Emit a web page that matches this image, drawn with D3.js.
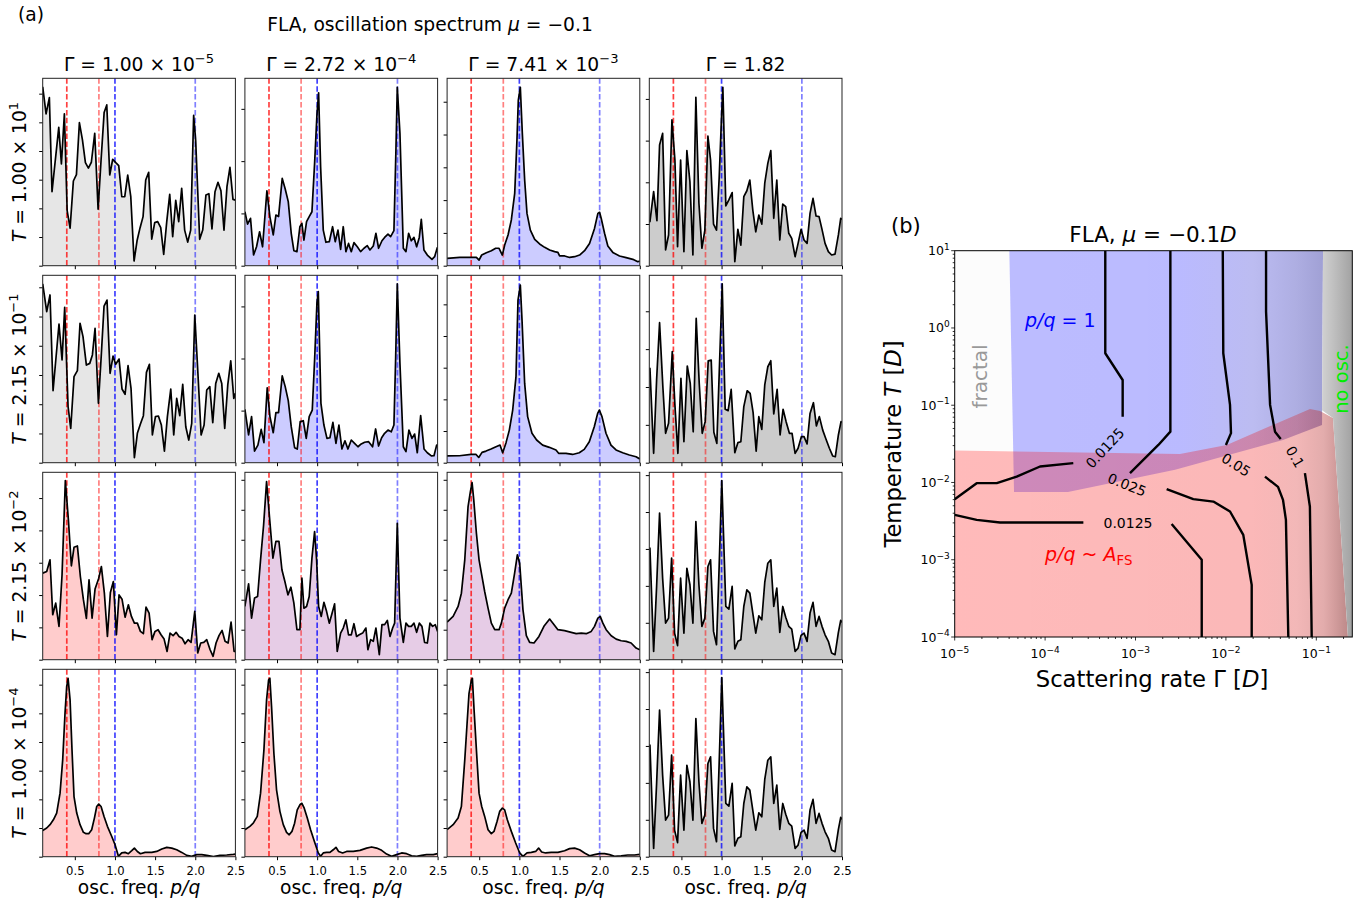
<!DOCTYPE html>
<html><head><meta charset="utf-8">
<script src="https://cdn.jsdelivr.net/npm/d3@7"></script>
<style>
body{margin:0;background:#fff;}
svg text{font-family:"DejaVu Sans",sans-serif;fill:#000;}
</style></head><body>
<svg id="fig" width="1370" height="904"></svg>
<script>
// ---------- panel (a): oscillation spectra ----------
const freqDomain = [0.1, 2.5];
const freqTicks = [0.5, 1.0, 1.5, 2.0, 2.5];
const markerFreqs = [0.4, 0.8, 1.0, 2.0];
const gammaTitles = [["1.00", "−5"], ["2.72", "−4"], ["7.41", "−3"], ["1.82", null]];
const tempTitles = [["1.00", "1"], ["2.15", "−1"], ["2.15", "−2"], ["1.00", "−4"]];
const regimes = [
  ["fractal", "pq1", "pq1", "noosc"],
  ["fractal", "pq1", "pq1", "noosc"],
  ["afs", "mixed", "mixed", "noosc"],
  ["afs", "afs", "afs", "noosc"]
];
const yTickSteps = [
  [0.153, 0.279, 0.175, 0.2225],
  [0.156, 0.278, 0.169, 0.202],
  [0.1725, 0.16, 0.16, 0.197],
  [0.153, 0.153, 0.153, 0.197]
];

// relative spectral weight (1 = top of each panel)
const specT1G1 = [[0.1,0.955],[0.142,0.81],[0.183,0.897],[0.216,0.395],[0.30,0.738],[0.333,0.543],[0.37,0.81],[0.405,0.292],[0.441,0.2],[0.482,0.452],[0.52,0.486],[0.557,0.763],[0.595,0.671],[0.632,0.55],[0.669,0.521],[0.706,0.552],[0.748,0.706],[0.79,0.302],[0.827,0.564],[0.865,0.817],[0.898,0.858],[0.935,0.484],[0.972,0.568],[1.01,0.55],[1.047,0.534],[1.085,0.368],[1.122,0.368],[1.159,0.484],[1.197,0.368],[1.238,0.025],[1.275,0.133],[1.313,0.203],[1.35,0.262],[1.383,0.457],[1.42,0.498],[1.458,0.142],[1.495,0.23],[1.532,0.235],[1.57,0.203],[1.607,0.06],[1.645,0.235],[1.682,0.381],[1.719,0.155],[1.757,0.349],[1.794,0.235],[1.831,0.413],[1.868,0.19],[1.906,0.126],[1.943,0.19],[1.98,0.802],[2.005,0.671],[2.055,0.141],[2.093,0.19],[2.133,0.377],[2.17,0.384],[2.208,0.196],[2.246,0.395],[2.283,0.445],[2.32,0.4],[2.358,0.19],[2.395,0.422],[2.432,0.525],[2.47,0.354],[2.5,0.35]];
const specT2G1 = [[0.1,0.954],[0.15,0.806],[0.191,0.895],[0.229,0.384],[0.303,0.74],[0.341,0.548],[0.374,0.829],[0.416,0.3],[0.449,0.183],[0.49,0.459],[0.532,0.491],[0.565,0.744],[0.602,0.673],[0.644,0.521],[0.686,0.53],[0.719,0.575],[0.752,0.717],[0.794,0.317],[0.829,0.57],[0.864,0.836],[0.901,0.868],[0.939,0.477],[0.976,0.569],[1.009,0.525],[1.051,0.553],[1.088,0.393],[1.126,0.365],[1.163,0.518],[1.2,0.397],[1.242,0.027],[1.279,0.157],[1.317,0.206],[1.354,0.251],[1.392,0.482],[1.429,0.525],[1.466,0.148],[1.504,0.246],[1.541,0.249],[1.578,0.201],[1.616,0.062],[1.653,0.246],[1.695,0.393],[1.732,0.148],[1.769,0.343],[1.807,0.251],[1.844,0.418],[1.882,0.192],[1.919,0.121],[1.956,0.21],[1.994,0.788],[2.031,0.495],[2.073,0.148],[2.11,0.201],[2.143,0.388],[2.181,0.406],[2.218,0.214],[2.255,0.423],[2.293,0.477],[2.33,0.423],[2.367,0.183],[2.405,0.415],[2.442,0.543],[2.48,0.343],[2.5,0.37]];
const specT1G2 = [[0.1,0.288],[0.133,0.222],[0.17,0.253],[0.208,0.057],[0.245,0.101],[0.283,0.181],[0.32,0.101],[0.374,0.4],[0.411,0.262],[0.453,0.164],[0.486,0.27],[0.519,0.262],[0.565,0.466],[0.602,0.409],[0.64,0.342],[0.677,0.173],[0.71,0.08],[0.748,0.075],[0.785,0.208],[0.81,0.226],[0.835,0.137],[0.868,0.235],[0.901,0.262],[0.935,0.288],[0.968,0.546],[0.997,0.804],[1.018,0.923],[1.043,0.528],[1.076,0.19],[1.109,0.125],[1.151,0.128],[1.192,0.208],[1.225,0.128],[1.259,0.19],[1.292,0.087],[1.325,0.208],[1.358,0.075],[1.391,0.119],[1.425,0.075],[1.458,0.123],[1.5,0.101],[1.541,0.075],[1.583,0.093],[1.624,0.107],[1.657,0.084],[1.699,0.105],[1.732,0.173],[1.765,0.093],[1.807,0.133],[1.84,0.151],[1.882,0.169],[1.915,0.155],[1.956,0.187],[1.981,0.617],[1.998,0.952],[2.031,0.706],[2.073,0.093],[2.106,0.075],[2.139,0.173],[2.172,0.133],[2.206,0.151],[2.239,0.101],[2.272,0.151],[2.297,0.247],[2.33,0.084],[2.372,0.057],[2.43,0.034],[2.463,0.048],[2.496,0.096],[2.5,0.096]];
const specT2G2 = [[0.1,0.285],[0.146,0.148],[0.183,0.246],[0.22,0.062],[0.262,0.094],[0.303,0.178],[0.337,0.107],[0.378,0.4],[0.412,0.246],[0.453,0.16],[0.486,0.267],[0.519,0.267],[0.565,0.463],[0.602,0.406],[0.64,0.331],[0.677,0.192],[0.719,0.08],[0.752,0.073],[0.789,0.219],[0.827,0.224],[0.864,0.13],[0.901,0.246],[0.939,0.281],[0.968,0.548],[0.997,0.851],[1.014,0.913],[1.047,0.317],[1.084,0.201],[1.122,0.13],[1.159,0.133],[1.196,0.215],[1.234,0.103],[1.271,0.201],[1.308,0.073],[1.346,0.117],[1.383,0.073],[1.425,0.121],[1.466,0.103],[1.508,0.085],[1.549,0.1],[1.591,0.109],[1.641,0.112],[1.69,0.085],[1.728,0.18],[1.765,0.089],[1.803,0.133],[1.84,0.157],[1.882,0.174],[1.923,0.165],[1.956,0.201],[1.977,0.548],[1.998,0.954],[2.031,0.53],[2.073,0.085],[2.106,0.059],[2.143,0.174],[2.181,0.13],[2.214,0.153],[2.247,0.053],[2.289,0.251],[2.331,0.073],[2.372,0.053],[2.422,0.036],[2.455,0.037],[2.488,0.094],[2.5,0.094]];
const specT1G3 = [[0.1,0.039],[0.258,0.044],[0.403,0.044],[0.465,0.044],[0.498,0.03],[0.531,0.057],[0.589,0.069],[0.651,0.08],[0.705,0.093],[0.747,0.093],[0.788,0.057],[0.817,0.11],[0.859,0.164],[0.9,0.244],[0.942,0.386],[0.97,0.671],[0.987,0.884],[1.012,0.952],[1.037,0.706],[1.066,0.457],[1.095,0.279],[1.137,0.19],[1.191,0.141],[1.252,0.116],[1.315,0.098],[1.377,0.084],[1.439,0.075],[1.48,0.071],[1.501,0.052],[1.564,0.052],[1.626,0.044],[1.688,0.048],[1.75,0.057],[1.812,0.08],[1.874,0.119],[1.936,0.199],[1.978,0.279],[1.999,0.285],[2.019,0.253],[2.061,0.173],[2.102,0.105],[2.164,0.071],[2.247,0.052],[2.33,0.043],[2.413,0.034],[2.475,0.021],[2.5,0.025]];
const specT2G3 = [[0.1,0.036],[0.254,0.037],[0.398,0.044],[0.461,0.044],[0.494,0.028],[0.535,0.055],[0.585,0.062],[0.647,0.073],[0.709,0.085],[0.759,0.094],[0.792,0.053],[0.834,0.107],[0.875,0.174],[0.917,0.281],[0.958,0.459],[0.983,0.868],[1.012,0.948],[1.033,0.762],[1.066,0.423],[1.103,0.246],[1.157,0.157],[1.215,0.121],[1.29,0.094],[1.373,0.082],[1.456,0.068],[1.489,0.05],[1.58,0.05],[1.663,0.044],[1.746,0.053],[1.808,0.071],[1.871,0.112],[1.933,0.192],[1.975,0.263],[1.996,0.281],[2.029,0.246],[2.079,0.157],[2.141,0.094],[2.204,0.068],[2.287,0.053],[2.37,0.041],[2.453,0.032],[2.5,0.02]];
const specT1G4 = [[0.1,0.235],[0.108,0.235],[0.154,0.395],[0.195,0.24],[0.228,0.644],[0.266,0.706],[0.303,0.084],[0.34,0.164],[0.382,0.778],[0.419,0.564],[0.452,0.101],[0.49,0.564],[0.531,0.075],[0.568,0.614],[0.606,0.448],[0.643,0.057],[0.68,0.899],[0.718,0.333],[0.755,0.093],[0.792,0.19],[0.83,0.692],[0.863,0.564],[0.9,0.222],[0.937,0.19],[0.97,0.466],[0.999,0.786],[1.016,0.952],[1.053,0.319],[1.091,0.351],[1.132,0.39],[1.165,0.021],[1.203,0.194],[1.24,0.11],[1.277,0.368],[1.315,0.4],[1.352,0.457],[1.389,0.297],[1.426,0.181],[1.464,0.27],[1.501,0.222],[1.538,0.44],[1.576,0.546],[1.613,0.614],[1.65,0.253],[1.688,0.457],[1.725,0.137],[1.762,0.329],[1.799,0.315],[1.837,0.173],[1.874,0.146],[1.916,0.048],[1.953,0.119],[1.99,0.194],[2.027,0.137],[2.065,0.119],[2.102,0.279],[2.139,0.359],[2.177,0.265],[2.214,0.262],[2.251,0.194],[2.289,0.119],[2.33,0.075],[2.371,0.057],[2.413,0.062],[2.455,0.164],[2.484,0.253],[2.5,0.247]];
const specT2G4 = [[0.1,0.504],[0.108,0.504],[0.154,0.05],[0.191,0.441],[0.228,0.747],[0.27,0.397],[0.303,0.157],[0.34,0.21],[0.386,0.593],[0.419,0.308],[0.456,0.05],[0.494,0.45],[0.531,0.112],[0.573,0.516],[0.61,0.423],[0.647,0.165],[0.684,0.77],[0.722,0.423],[0.759,0.157],[0.796,0.219],[0.834,0.544],[0.871,0.548],[0.904,0.162],[0.941,0.103],[0.975,0.53],[1.008,0.954],[1.045,0.285],[1.082,0.278],[1.12,0.391],[1.165,0.053],[1.203,0.107],[1.24,0.112],[1.277,0.299],[1.319,0.384],[1.356,0.37],[1.393,0.267],[1.431,0.062],[1.464,0.246],[1.501,0.178],[1.538,0.415],[1.576,0.512],[1.613,0.544],[1.65,0.26],[1.692,0.391],[1.729,0.148],[1.766,0.285],[1.804,0.219],[1.845,0.157],[1.878,0.157],[1.916,0.05],[1.953,0.077],[1.994,0.139],[2.027,0.139],[2.065,0.1],[2.102,0.263],[2.144,0.32],[2.181,0.196],[2.218,0.246],[2.26,0.174],[2.301,0.125],[2.343,0.077],[2.384,0.036],[2.417,0.032],[2.455,0.148],[2.488,0.219],[2.5,0.214]];
const specT3G1 = [[0.1,0.462],[0.15,0.471],[0.191,0.533],[0.225,0.24],[0.262,0.302],[0.303,0.178],[0.341,0.453],[0.382,0.956],[0.42,0.746],[0.457,0.501],[0.49,0.6],[0.532,0.607],[0.569,0.444],[0.607,0.32],[0.644,0.22],[0.677,0.426],[0.715,0.222],[0.752,0.377],[0.798,0.435],[0.831,0.497],[0.868,0.355],[0.906,0.124],[0.943,0.359],[0.98,0.417],[1.018,0.133],[1.051,0.346],[1.088,0.323],[1.126,0.227],[1.167,0.293],[1.205,0.231],[1.242,0.195],[1.279,0.195],[1.317,0.151],[1.354,0.139],[1.387,0.281],[1.425,0.249],[1.462,0.107],[1.499,0.151],[1.537,0.16],[1.574,0.133],[1.612,0.11],[1.649,0.044],[1.686,0.142],[1.724,0.128],[1.761,0.146],[1.798,0.124],[1.836,0.115],[1.873,0.085],[1.911,0.107],[1.948,0.092],[1.994,0.258],[2.031,0.036],[2.068,0.089],[2.106,0.092],[2.143,0.107],[2.185,0.053],[2.222,0.018],[2.259,0.089],[2.297,0.13],[2.334,0.156],[2.371,0.098],[2.409,0.089],[2.446,0.201],[2.484,0.044],[2.5,0.044]];
const specT3G2 = [[0.1,0.284],[0.146,0.405],[0.183,0.222],[0.22,0.329],[0.258,0.337],[0.295,0.533],[0.333,0.719],[0.37,0.95],[0.411,0.737],[0.449,0.542],[0.486,0.631],[0.524,0.631],[0.561,0.48],[0.598,0.417],[0.636,0.346],[0.673,0.387],[0.71,0.302],[0.748,0.16],[0.785,0.16],[0.81,0.435],[0.835,0.275],[0.868,0.284],[0.901,0.337],[0.935,0.542],[0.968,0.684],[0.993,0.533],[1.018,0.284],[1.051,0.231],[1.084,0.306],[1.117,0.258],[1.151,0.195],[1.184,0.245],[1.217,0.298],[1.25,0.044],[1.292,0.142],[1.325,0.169],[1.358,0.213],[1.391,0.133],[1.425,0.133],[1.458,0.192],[1.491,0.124],[1.524,0.133],[1.566,0.142],[1.607,0.169],[1.632,0.053],[1.666,0.107],[1.699,0.098],[1.732,0.169],[1.774,0.027],[1.807,0.187],[1.84,0.187],[1.874,0.21],[1.907,0.124],[1.94,0.169],[1.965,0.195],[1.998,0.728],[2.031,0.222],[2.073,0.092],[2.106,0.195],[2.139,0.178],[2.172,0.178],[2.206,0.195],[2.239,0.146],[2.272,0.195],[2.305,0.178],[2.338,0.092],[2.372,0.089],[2.405,0.195],[2.438,0.178],[2.471,0.187],[2.5,0.151]];
const specT3G3 = [[0.1,0.201],[0.175,0.231],[0.237,0.284],[0.278,0.355],[0.32,0.533],[0.361,0.817],[0.39,0.897],[0.411,0.945],[0.432,0.853],[0.465,0.675],[0.498,0.533],[0.531,0.453],[0.568,0.364],[0.61,0.275],[0.651,0.195],[0.693,0.16],[0.747,0.16],[0.776,0.195],[0.817,0.275],[0.859,0.32],[0.9,0.355],[0.941,0.462],[0.975,0.56],[1.004,0.515],[1.045,0.266],[1.087,0.128],[1.128,0.092],[1.182,0.089],[1.244,0.124],[1.306,0.178],[1.377,0.217],[1.418,0.195],[1.48,0.16],[1.563,0.155],[1.646,0.146],[1.708,0.139],[1.771,0.142],[1.833,0.139],[1.895,0.151],[1.936,0.178],[1.978,0.222],[2.007,0.231],[2.04,0.195],[2.081,0.16],[2.144,0.128],[2.206,0.11],[2.268,0.101],[2.33,0.098],[2.392,0.089],[2.454,0.062],[2.5,0.053]];
const specT3G4 = [[0.1,0.595],[0.108,0.595],[0.154,0.044],[0.191,0.391],[0.228,0.782],[0.266,0.435],[0.303,0.195],[0.34,0.222],[0.378,0.542],[0.415,0.142],[0.452,0.075],[0.49,0.435],[0.531,0.142],[0.568,0.488],[0.606,0.4],[0.643,0.195],[0.68,0.737],[0.718,0.4],[0.755,0.178],[0.792,0.222],[0.83,0.497],[0.863,0.533],[0.9,0.151],[0.937,0.08],[0.97,0.497],[1.003,0.956],[1.053,0.284],[1.091,0.27],[1.132,0.391],[1.165,0.057],[1.203,0.098],[1.24,0.107],[1.277,0.284],[1.315,0.373],[1.352,0.355],[1.389,0.249],[1.426,0.142],[1.464,0.234],[1.501,0.213],[1.538,0.412],[1.576,0.515],[1.613,0.533],[1.65,0.284],[1.688,0.382],[1.725,0.146],[1.762,0.284],[1.799,0.227],[1.837,0.178],[1.874,0.163],[1.916,0.044],[1.953,0.062],[1.99,0.13],[2.027,0.142],[2.065,0.098],[2.102,0.249],[2.139,0.306],[2.177,0.178],[2.214,0.231],[2.251,0.178],[2.289,0.133],[2.33,0.098],[2.371,0.036],[2.413,0.027],[2.455,0.146],[2.484,0.21],[2.5,0.199]];
const specT4G1 = [[0.1,0.14],[0.15,0.153],[0.191,0.171],[0.233,0.197],[0.274,0.233],[0.316,0.339],[0.349,0.517],[0.378,0.766],[0.399,0.908],[0.416,0.952],[0.441,0.837],[0.465,0.57],[0.49,0.321],[0.524,0.233],[0.565,0.171],[0.607,0.13],[0.64,0.123],[0.673,0.123],[0.71,0.144],[0.744,0.206],[0.773,0.268],[0.798,0.281],[0.827,0.268],[0.864,0.215],[0.906,0.162],[0.96,0.108],[1.001,0.064],[1.043,0.002],[1.084,0.02],[1.126,0.023],[1.167,0.016],[1.209,0.032],[1.242,0.046],[1.279,0.028],[1.317,0.016],[1.375,0.023],[1.458,0.023],[1.52,0.028],[1.583,0.041],[1.645,0.05],[1.707,0.046],[1.769,0.037],[1.832,0.023],[1.894,0.007],[1.956,0.002],[2.019,0.011],[2.081,0.011],[2.143,0.007],[2.226,0.0],[2.309,0.007],[2.392,0.009],[2.475,0.012],[2.5,0.014]];
const specT4G2 = [[0.1,0.144],[0.162,0.162],[0.204,0.179],[0.254,0.215],[0.295,0.339],[0.337,0.57],[0.37,0.837],[0.395,0.943],[0.411,0.952],[0.432,0.801],[0.461,0.552],[0.494,0.357],[0.536,0.242],[0.578,0.171],[0.619,0.13],[0.652,0.117],[0.686,0.135],[0.719,0.179],[0.752,0.25],[0.785,0.277],[0.81,0.285],[0.839,0.259],[0.877,0.206],[0.918,0.144],[0.972,0.073],[1.014,0.02],[1.043,0.002],[1.076,0.02],[1.117,0.023],[1.159,0.023],[1.2,0.037],[1.234,0.05],[1.267,0.028],[1.317,0.02],[1.367,0.028],[1.45,0.028],[1.533,0.034],[1.616,0.046],[1.678,0.052],[1.74,0.046],[1.803,0.034],[1.865,0.014],[1.927,0.002],[1.99,0.011],[2.052,0.02],[2.114,0.016],[2.176,0.005],[2.239,0.002],[2.301,0.007],[2.363,0.011],[2.446,0.011],[2.5,0.016]];
const specT4G3 = [[0.1,0.144],[0.175,0.171],[0.237,0.206],[0.278,0.268],[0.32,0.517],[0.349,0.712],[0.373,0.872],[0.403,0.943],[0.415,0.952],[0.436,0.783],[0.465,0.57],[0.498,0.339],[0.531,0.268],[0.568,0.215],[0.61,0.144],[0.651,0.123],[0.684,0.135],[0.722,0.188],[0.755,0.242],[0.788,0.259],[0.817,0.25],[0.85,0.197],[0.9,0.135],[0.954,0.073],[1.004,0.02],[1.045,0.002],[1.095,0.02],[1.149,0.023],[1.203,0.028],[1.24,0.046],[1.278,0.025],[1.327,0.02],[1.397,0.023],[1.48,0.023],[1.563,0.032],[1.625,0.043],[1.688,0.046],[1.75,0.037],[1.812,0.02],[1.874,0.005],[1.936,0.011],[1.998,0.016],[2.061,0.016],[2.123,0.011],[2.185,0.002],[2.268,0.005],[2.351,0.009],[2.434,0.009],[2.5,0.012]];
const specT4G4 = specT3G4;

const spectra = [
  [specT1G1, specT1G2, specT1G3, specT1G4],
  [specT2G1, specT2G2, specT2G3, specT2G4],
  [specT3G1, specT3G2, specT3G3, specT3G4],
  [specT4G1, specT4G2, specT4G3, specT4G4]
];

// ---------- panel (b): regime map ----------
const gammaDomain = [1e-5, 0.25];
const tempDomain = [1e-4, 10];
const regionFractal = [[1e-5,10],[4.02e-5,10],[4.4e-5,0.0259],[1e-5,0.0259]];
const regionPQ1 = [[4.02e-5,10],[0.1186,10],[0.1156,0.0556],[0.0428,0.0356],[2.74e-3,0.01456],[1.79e-4,7.55e-3],[4.53e-5,7.55e-3]];
const regionAFS = [[1e-5,0.0259],[3.10e-3,0.0234],[0.0102,0.0306],[0.0851,0.0895],[0.1099,0.0843],[0.1528,0.0684],[0.2239,1e-4],[1e-5,1e-4]];
const regionNoOsc = [[0.1186,10],[0.25,10],[0.25,1e-4],[0.2239,1e-4],[0.1528,0.0684],[0.1156,0.086]];

// contour segments, split where the inline labels sit
const contour0125a = [
  [[4.63e-4,10],[4.63e-4,0.471],[7.21e-4,0.212],[7.21e-4,0.0711]],
  [[2.05e-4,0.0178],[8.79e-5,0.0161],[4.85e-5,0.0119],[2.92e-5,0.0098],[1.75e-5,0.0098],[1e-5,0.00608]]
];
const contour0125b = [
  [[1e-5,3.81e-3],[1.75e-5,3.28e-3],[3.17e-5,3.03e-3],[2.65e-4,3.03e-3]],
  [[2.51e-3,2.91e-3],[5.40e-3,1.0e-3],[5.40e-3,1e-4]]
];
const contour025 = [
  [[2.43e-3,10],[2.43e-3,0.0455],[1.79e-3,0.0306],[8.69e-4,0.0132]],
  [[2.21e-3,8.18e-3],[4.36e-3,6.08e-3],[7.26e-3,5.66e-3],[0.0111,4.21e-3],[0.01556,2.10e-3],[0.01928,4.73e-4],[0.01928,1e-4]]
];
const contour05 = [
  [[9.23e-3,10],[9.35e-3,0.471],[0.0111,0.101],[0.01138,0.0435],[0.0100,0.0306]],
  [[0.02704,0.0119],[0.0377,8.77e-3],[0.0428,5.96e-3],[0.0461,3.28e-3],[0.0490,1e-4]]
];
const contour1 = [
  [[0.0278,10],[0.0278,1.626],[0.0308,0.101],[0.0349,0.0455],[0.0404,0.0366]],
  [[0.0748,0.0132],[0.0849,4.88e-3],[0.0889,1e-4]]
];
const contourLabels = [
  {g: 4.61e-4, t: 0.0279, text: "0.0125", rot: -47},
  {g: 8.26e-4, t: 2.99e-3, text: "0.0125", rot: 0},
  {g: 8.05e-4, t: 9.31e-3, text: "0.025", rot: 22},
  {g: 0.01294, t: 0.0169, text: "0.05", rot: 32},
  {g: 0.0581, t: 0.0214, text: "0.1", rot: 60}
];
const decadesGamma = [-5, -4, -3, -2, -1];
const decadesTemp = [-4, -3, -2, -1, 0, 1];

// ---------- drawing ----------
const svg = d3.select("#fig");
const FS = 18.7;

function runs(textSel, parts, fs, supScale) {
  const sc = supScale || 0.7;
  let shift = 0;
  parts.forEach(p => {
    const ts = textSel.append("tspan").text(p.t);
    const target = p.sup ? -0.42 * fs : (p.sub ? 0.2 * fs : 0);
    if (target !== shift) { ts.attr("dy", target - shift); shift = target; }
    if (p.sup || p.sub) ts.attr("font-size", sc * fs);
    if (p.i) ts.attr("font-style", "italic");
  });
  return textSel;
}

const fillStyle = {
  fractal: {c: "gray", o: 0.2},
  pq1: {c: "blue", o: 0.2},
  afs: {c: "red", o: 0.2},
  mixed: {c: "purple", o: 0.2},
  noosc: {c: "gray", o: 0.4}
};
const markerStyle = [
  {c: "#ff0000", o: 0.75}, {c: "#ff0000", o: 0.5},
  {c: "#0000ff", o: 0.75}, {c: "#0000ff", o: 0.5}
];

const PX0 = 42.7, PDX = 202.2, PW = 192.7, PY0 = 78.3, PDY = 197, PH = 187.4;

const defs = svg.append("defs");
defs.append("clipPath").attr("id", "pclip").append("rect")
  .attr("width", PW).attr("height", PH);

const x = d3.scaleLinear().domain(freqDomain).range([0, PW]);
const y = d3.scaleLinear().domain([0, 1]).range([PH, 0]);
const area = d3.area().x(d => x(d[0])).y0(PH).y1(d => y(d[1]));
const line = d3.line().x(d => x(d[0])).y(d => y(d[1]));

spectra.forEach((row, ri) => row.forEach((spec, ci) => {
  const g = svg.append("g").attr("transform", `translate(${PX0 + ci * PDX},${PY0 + ri * PDY})`);
  const body = g.append("g").attr("clip-path", "url(#pclip)");
  const fs = fillStyle[regimes[ri][ci]];
  body.append("path").datum(spec).attr("d", area)
    .attr("fill", fs.c).attr("fill-opacity", fs.o);
  markerFreqs.forEach((f, k) => {
    body.append("line").attr("x1", x(f)).attr("x2", x(f)).attr("y1", 0).attr("y2", PH)
      .attr("stroke", markerStyle[k].c).attr("stroke-opacity", markerStyle[k].o)
      .attr("stroke-width", 1.7).attr("stroke-dasharray", "5.5,2.4");
  });
  body.append("path").datum(spec).attr("d", line)
    .attr("fill", "none").attr("stroke", "#000").attr("stroke-width", 1.7)
    .attr("stroke-linejoin", "round");

  const xa = g.append("g").attr("transform", `translate(0,${PH})`)
    .call(d3.axisBottom(x).tickValues(freqTicks).tickSize(3.5).tickSizeOuter(0)
      .tickFormat(ri === 3 ? d3.format(".1f") : () => ""));
  xa.select(".domain").remove();
  xa.selectAll("text").attr("font-size", 11.6).attr("y", 18).attr("dy", 0)
    .attr("font-family", "DejaVu Sans").attr("fill", "#000");
  const ya = g.append("g")
    .call(d3.axisLeft(y).tickValues(d3.range(0, 1.0001, yTickSteps[ri][ci])).tickSize(3.5)
      .tickSizeOuter(0).tickFormat(() => ""));
  ya.select(".domain").remove();
  g.append("rect").attr("width", PW).attr("height", PH)
    .attr("fill", "none").attr("stroke", "#222").attr("stroke-width", 1);
}));

// column titles and bottom axis labels
gammaTitles.forEach((gt, ci) => {
  const cx = PX0 + ci * PDX + PW / 2;
  const parts = [{t: "Γ = " + gt[0]}];
  if (gt[1]) { parts[0].t += " × 10"; parts.push({t: gt[1], sup: true}); }
  runs(svg.append("text").attr("x", cx).attr("y", 71)
    .attr("text-anchor", "middle").attr("font-size", FS), parts, FS);
  runs(svg.append("text").attr("x", cx).attr("y", 894).attr("text-anchor", "middle")
    .attr("font-size", FS), [{t: "osc. freq. "}, {t: "p/q", i: true}], FS);
});
// row titles
tempTitles.forEach((tt, ri) => {
  const cy = PY0 + ri * PDY + PH / 2;
  runs(svg.append("text").attr("transform", `translate(25.5,${cy}) rotate(-90)`)
    .attr("text-anchor", "middle").attr("font-size", FS),
    [{t: "T", i: true}, {t: " = " + tt[0] + " × 10"}, {t: tt[1], sup: true}], FS);
});
svg.append("text").attr("x", 18).attr("y", 21).attr("font-size", FS).text("(a)");
runs(svg.append("text").attr("x", 430).attr("y", 31).attr("text-anchor", "middle").attr("font-size", FS),
  [{t: "FLA, oscillation spectrum "}, {t: "μ", i: true}, {t: " = −0.1"}], FS);

// ---------- panel (b) ----------
const BX0 = 954.7, BX1 = 1352.3, BY0 = 250.7, BY1 = 637;
const xB = d3.scaleLog().domain(gammaDomain).range([BX0, BX1]);
const yB = d3.scaleLog().domain(tempDomain).range([BY1, BY0]);
const poly = d3.line().x(d => xB(d[0])).y(d => yB(d[1]));

function hGrad(id, stops) {
  const gr = defs.append("linearGradient").attr("id", id).attr("gradientUnits", "userSpaceOnUse")
    .attr("x1", BX0).attr("x2", BX1).attr("y1", 0).attr("y2", 0);
  stops.forEach(s => gr.append("stop").attr("offset", (xB(s[0]) - BX0) / (BX1 - BX0))
    .attr("stop-color", s[1]).attr("stop-opacity", s[2]));
}
hGrad("gBlue", [[1e-5, "#0000ff", 0.26], [3e-3, "#0000ff", 0.27], [0.02, "#2020d0", 0.3], [0.06, "#2424b0", 0.37], [0.12, "#2c2ca0", 0.45]]);
hGrad("gRed", [[1e-5, "#ff0000", 0.27], [0.02, "#f00000", 0.28], [0.06, "#d82020", 0.32], [0.12, "#b83030", 0.4], [0.2, "#882020", 0.5], [0.25, "#802020", 0.55]]);
hGrad("gGray", [[0.11, "#d4d4d4", 1], [0.17, "#bababa", 1], [0.25, "#a2a2a2", 1]]);
defs.append("clipPath").attr("id", "bclip").append("rect")
  .attr("x", BX0).attr("y", BY0).attr("width", BX1 - BX0).attr("height", BY1 - BY0);

const bg = svg.append("g").attr("clip-path", "url(#bclip)");
bg.append("path").attr("d", poly(regionFractal) + "Z").attr("fill", "#fcfcfc");
bg.append("path").attr("d", poly(regionPQ1) + "Z").attr("fill", "url(#gBlue)");
bg.append("path").attr("d", poly(regionAFS) + "Z").attr("fill", "url(#gRed)");
bg.append("path").attr("d", poly(regionNoOsc) + "Z").attr("fill", "url(#gGray)");

[contour0125a, contour0125b, contour025, contour05, contour1].forEach(c => c.forEach(seg => {
  bg.append("path").attr("d", poly(seg)).attr("fill", "none").attr("stroke", "#000")
    .attr("stroke-width", 2.4).attr("stroke-linejoin", "round");
}));
contourLabels.forEach(l => {
  svg.append("text").attr("transform", `translate(${xB(l.g)},${yB(l.t)}) rotate(${l.rot})`)
    .attr("text-anchor", "middle").attr("dy", "0.35em").attr("font-size", 14).text(l.text);
});

// region annotations
runs(svg.append("text").attr("x", 1025).attr("y", 327).attr("font-size", 19)
  .style("fill", "#0000ff"), [{t: "p/q", i: true}, {t: " = 1"}], 19);
runs(svg.append("text").attr("x", 1045).attr("y", 561).attr("font-size", 19).style("fill", "#ff0000"),
  [{t: "p/q", i: true}, {t: " ~ "}, {t: "A", i: true}, {t: "FS", sub: true}], 19);
svg.append("text").attr("transform", "translate(986.5,376.5) rotate(-90)").attr("text-anchor", "middle")
  .attr("font-size", 20).style("fill", "#999").text("fractal");
svg.append("text").attr("transform", "translate(1348,379) rotate(-90)").attr("text-anchor", "middle")
  .attr("font-size", 19.5).style("fill", "#00ee00").text("no osc.");

// frame and log ticks
svg.append("rect").attr("x", BX0).attr("y", BY0).attr("width", BX1 - BX0).attr("height", BY1 - BY0)
  .attr("fill", "none").attr("stroke", "#000").attr("stroke-width", 1);
const tk = svg.append("g").attr("stroke", "#000").attr("stroke-width", 0.8);
const TFS = 12.5;
decadesGamma.forEach(e => {
  const v = Math.pow(10, e);
  tk.append("line").attr("x1", xB(v)).attr("x2", xB(v)).attr("y1", BY1).attr("y2", BY1 + 3.5);
  d3.range(2, 10).forEach(m => {
    const mv = m * v;
    if (mv <= gammaDomain[1]) tk.append("line").attr("x1", xB(mv)).attr("x2", xB(mv)).attr("y1", BY1).attr("y2", BY1 + 2);
  });
  runs(svg.append("text").attr("x", xB(v)).attr("y", 658).attr("text-anchor", "middle").attr("font-size", TFS),
    [{t: "10"}, {t: "−" + (-e), sup: true}], TFS, 0.72);
});
decadesTemp.forEach(e => {
  const v = Math.pow(10, e);
  tk.append("line").attr("x1", BX0 - 3.5).attr("x2", BX0).attr("y1", yB(v)).attr("y2", yB(v));
  if (e < 1) d3.range(2, 10).forEach(m => {
    tk.append("line").attr("x1", BX0 - 2).attr("x2", BX0).attr("y1", yB(m * v)).attr("y2", yB(m * v));
  });
  runs(svg.append("text").attr("x", BX0 - 5).attr("y", yB(v) + 4.5).attr("text-anchor", "end").attr("font-size", TFS),
    [{t: "10"}, {t: e < 0 ? "−" + (-e) : String(e), sup: true}], TFS, 0.72);
});

svg.append("text").attr("x", 891).attr("y", 233).attr("font-size", 21).text("(b)");
runs(svg.append("text").attr("x", 1153).attr("y", 242).attr("text-anchor", "middle").attr("font-size", 21.5),
  [{t: "FLA,  "}, {t: "μ", i: true}, {t: " = −0.1"}, {t: "D", i: true}], 21.5);
runs(svg.append("text").attr("x", 1152).attr("y", 687).attr("text-anchor", "middle").attr("font-size", 22.7),
  [{t: "Scattering rate Γ  ["}, {t: "D", i: true}, {t: "]"}], 22.7);
runs(svg.append("text").attr("transform", `translate(901,444) rotate(-90)`).attr("text-anchor", "middle").attr("font-size", 22.7),
  [{t: "Temperature "}, {t: "T", i: true}, {t: "  ["}, {t: "D", i: true}, {t: "]"}], 22.7);
</script></body></html>
